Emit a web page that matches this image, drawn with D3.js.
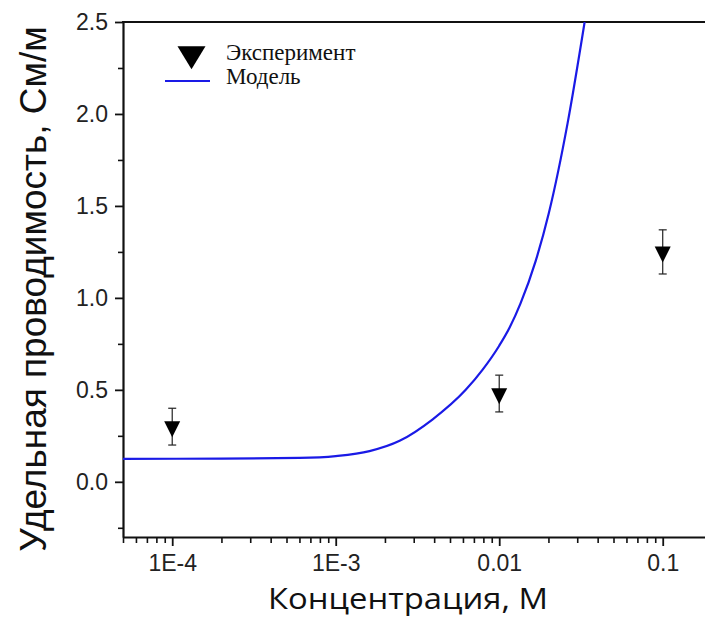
<!DOCTYPE html>
<html>
<head>
<meta charset="utf-8">
<script src="https://cdn.jsdelivr.net/npm/d3@7"></script>
<style>
  body { margin: 0; background: #fff; }
  svg { display: block; }
</style>
</head>
<body>
<div id="chart"></div>
<script>
// experiment points (concentration M, conductivity S/m, error)
var expConc = [1e-4, 0.01, 0.1];
var expVal = [0.30, 0.48, 1.25];
var expErr = [0.10, 0.10, 0.12];

// model curve
var modelConc = [5e-5, 2e-4, 6e-4, 1e-3, 1.61e-3, 2.46e-3, 3.92e-3, 6.24e-3, 7.92e-3, 0.01, 0.0116, 0.0135, 0.0167, 0.0201, 0.0262, 0.0333];
var modelVal = [0.125, 0.126, 0.130, 0.140, 0.167, 0.223, 0.34, 0.50, 0.61, 0.74, 0.84, 0.97, 1.20, 1.46, 1.95, 2.5];

var xTicks = [1e-4, 1e-3, 0.01, 0.1];
var xTickLabels = ["1E-4", "1E-3", "0.01", "0.1"];
var yTicks = [0, 0.5, 1.0, 1.5, 2.0, 2.5];
var yMinorTicks = [-0.25, 0.25, 0.75, 1.25, 1.75, 2.25];

var legendLabels = ["Эксперимент", "Модель"];
var xTitle = "Концентрация, М";
var yTitle = "Удельная проводимость, См/м";

var W = 705, H = 626;
var padL = 123, padT = 22, padB = 537;

var svg = d3.select("#chart").append("svg")
    .attr("width", W)
    .attr("height", H);

var x = d3.scaleLog().domain([5e-5, 0.2]).range([padL, padL + 163.5 * Math.log10(4000)]);
var y = d3.scaleLinear().domain([-0.3, 2.5]).range([padB, padT]);

var tickFont = "'Liberation Sans', Arial, sans-serif";

// minor x ticks
var minor = x.ticks().filter(function(d) { return xTicks.indexOf(d) < 0; });
svg.append("g")
    .attr("transform", "translate(0," + padB + ")")
    .call(d3.axisBottom(x).tickValues(minor).tickSize(6).tickFormat(""))
    .call(function(g) { g.select(".domain").remove(); })
    .selectAll("line").attr("stroke", "#111").attr("stroke-width", 1.6);

var xAxis = svg.append("g")
    .attr("transform", "translate(0," + padB + ")")
    .call(d3.axisBottom(x).tickValues(xTicks).tickSize(9).tickSizeOuter(0)
        .tickPadding(9)
        .tickFormat(function(d, i) { return xTickLabels[i]; }));
xAxis.select(".domain").attr("stroke", "#111").attr("stroke-width", 2.2);
xAxis.selectAll("line").attr("stroke", "#111").attr("stroke-width", 1.8);
xAxis.selectAll("text").attr("fill", "#222").style("font-family", tickFont).style("font-size", "23px");

// y axis
svg.append("g")
    .attr("transform", "translate(" + padL + ",0)")
    .call(d3.axisLeft(y).tickValues(yMinorTicks).tickSize(5).tickFormat(""))
    .call(function(g) { g.select(".domain").remove(); })
    .selectAll("line").attr("stroke", "#111").attr("stroke-width", 1.6);

var yAxis = svg.append("g")
    .attr("transform", "translate(" + padL + ",0)")
    .call(d3.axisLeft(y).tickValues(yTicks).tickSize(8).tickSizeOuter(0)
        .tickPadding(7)
        .tickFormat(d3.format(".1f")));
yAxis.select(".domain").attr("stroke", "#111").attr("stroke-width", 2.2);
yAxis.selectAll("line").attr("stroke", "#111").attr("stroke-width", 1.8);
yAxis.selectAll("text").attr("fill", "#222").style("font-family", tickFont).style("font-size", "23px");

// top frame line
svg.append("line")
    .attr("x1", padL - 1).attr("x2", W)
    .attr("y1", y(2.5)).attr("y2", y(2.5))
    .attr("stroke", "#111").attr("stroke-width", 2.2);

// model
svg.append("clipPath").attr("id", "clip")
    .append("rect").attr("x", padL).attr("y", padT).attr("width", W - padL).attr("height", padB - padT);

var line = d3.line()
    .x(function(d, i) { return x(modelConc[i]); })
    .y(function(d) { return y(d); })
    .curve(d3.curveMonotoneX);

svg.append("path")
    .datum(modelVal)
    .attr("clip-path", "url(#clip)")
    .attr("d", line)
    .attr("fill", "none")
    .attr("stroke", "#1a1ae6")
    .attr("stroke-width", 2.2);

// experiment
function triDown(cx, cy, w, h) {
    // centroid at (cx, cy)
    return "M" + (cx - w / 2) + "," + (cy - h / 3) +
        "L" + (cx + w / 2) + "," + (cy - h / 3) +
        "L" + cx + "," + (cy + 2 * h / 3) + "Z";
}

var pts = svg.append("g").selectAll("g")
    .data(expVal).enter().append("g");

pts.append("line")
    .attr("x1", function(d, i) { return x(expConc[i]); })
    .attr("x2", function(d, i) { return x(expConc[i]); })
    .attr("y1", function(d, i) { return y(d + expErr[i]); })
    .attr("y2", function(d, i) { return y(d - expErr[i]); })
    .attr("stroke", "#222").attr("stroke-width", 1.2);

[1, -1].forEach(function(s) {
    pts.append("line")
        .attr("x1", function(d, i) { return x(expConc[i]) - 4; })
        .attr("x2", function(d, i) { return x(expConc[i]) + 4; })
        .attr("y1", function(d, i) { return y(d + s * expErr[i]); })
        .attr("y2", function(d, i) { return y(d + s * expErr[i]); })
        .attr("stroke", "#222").attr("stroke-width", 1.2);
});

pts.append("path")
    .attr("d", function(d, i) { return triDown(x(expConc[i]), y(d), 16, 16); })
    .attr("fill", "#000");

// legend
var lg = svg.append("g");
lg.append("path").attr("d", triDown(191.5, 54, 28, 23)).attr("fill", "#000");
lg.append("line").attr("x1", 165).attr("x2", 210).attr("y1", 81).attr("y2", 81)
    .attr("stroke", "#1a1ae6").attr("stroke-width", 2.2);
lg.selectAll("text").data(legendLabels).enter().append("text")
    .attr("x", 226)
    .attr("y", function(d, i) { return 60 + i * 24; })
    .style("font-family", "'Liberation Serif', 'Times New Roman', serif")
    .style("font-size", "23px")
    .attr("fill", "#111")
    .text(function(d) { return d; });

// titles
svg.append("text")
    .attr("x", 408).attr("y", 609)
    .attr("text-anchor", "middle")
    .attr("textLength", 280)
    .attr("lengthAdjust", "spacingAndGlyphs")
    .style("font-family", "'Open Sans', sans-serif")
    .style("font-size", "29px")
    .attr("fill", "#111")
    .text(xTitle);

svg.append("text")
    .attr("transform", "translate(46,289) rotate(-90)")
    .attr("text-anchor", "middle")
    .style("font-family", tickFont)
    .style("font-size", "37px")
    .attr("fill", "#111")
    .text(yTitle);
</script>
</body>
</html>
